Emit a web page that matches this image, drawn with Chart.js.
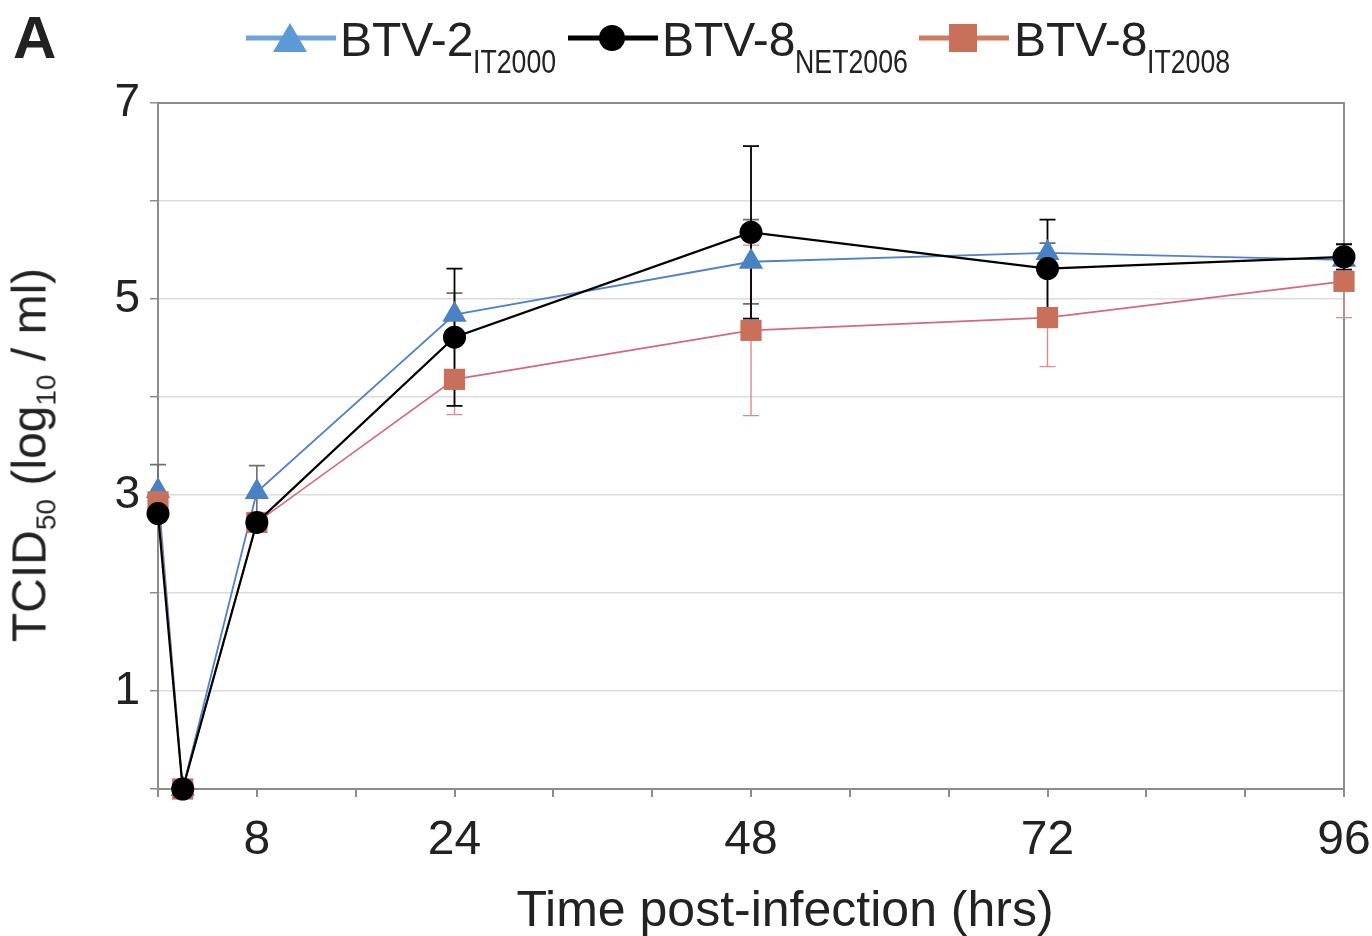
<!DOCTYPE html>
<html>
<head>
<meta charset="utf-8">
<script src="https://cdn.jsdelivr.net/npm/chart.js@4.4.1/dist/chart.umd.min.js"></script>
<style>
body { margin: 0; background: #fff; font-family: "Liberation Sans", Arial, sans-serif; color: #222; }
#wrap { position: relative; width: 1372px; height: 936px; overflow: hidden; }
#chart { position: absolute; left: 0; top: 0; }
.lbl { position: absolute; white-space: nowrap; }
.leg { font-size: 48px; line-height: 48px; top: 16px; }
.sub { display: inline-block; font-size: 33px; transform: scaleX(0.81); transform-origin: left; vertical-align: -17px; }
svg { position: absolute; }
</style>
</head>
<body>
<div id="wrap">
  <canvas id="chart" width="1372" height="936"></canvas>

  <div class="lbl" style="left:13px;top:8px;font-size:60px;line-height:60px;font-weight:bold;">A</div>

  <!-- légende -->
  <svg style="left:246px;top:18px" width="90" height="40">
    <line x1="0" y1="20" x2="90" y2="20" stroke="#6fa3da" stroke-width="5"/>
    <polygon points="27,34 61,34 44,5" fill="#5b9bd5"/>
  </svg>
  <div class="lbl leg" style="left:340px">BTV-2<span class="sub">IT2000</span></div>

  <svg style="left:568px;top:18px" width="90" height="40">
    <line x1="0" y1="20" x2="90" y2="20" stroke="#000" stroke-width="5"/>
    <circle cx="44" cy="20" r="13" fill="#000"/>
  </svg>
  <div class="lbl leg" style="left:662px">BTV-8<span class="sub">NET2006</span></div>

  <svg style="left:919px;top:18px" width="90" height="40">
    <line x1="0" y1="20" x2="90" y2="20" stroke="#d07a62" stroke-width="5"/>
    <rect x="30" y="6" width="28" height="28" fill="#c8705a"/>
  </svg>
  <div class="lbl leg" style="left:1014px">BTV-8<span class="sub">IT2008</span></div>

  <div class="lbl" style="left:785px;top:884px;font-size:50px;line-height:50px;transform:translateX(-50%);">Time post-infection (hrs)</div>
  <div class="lbl" style="left:38px;top:455px;font-size:48px;line-height:48px;transform:translate(-50%,-50%) rotate(-90deg);">TCID<span style="font-size:28px;vertical-align:-10px">50</span> (log<span style="font-size:28px;vertical-align:-10px">10</span> / ml)</div>
</div>

<script>
// données (heures post-infection, log10 TCID50/ml)
const hours = [0, 2, 8, 24, 48, 72, 96];

const btv2 = [3.04, 0, 3.03, 4.84, 5.38, 5.47, 5.40];
const btv2Err = [0.27, 0, 0.27, 0.22, 0.43, 0.10, 0.05];

const btv8Net = [2.81, 0, 2.72, 4.61, 5.68, 5.31, 5.43];
const btv8NetErr = [0.05, 0, 0.05, 0.70, 0.88, 0.50, 0.13];

const btv8It = [2.93, 0, 2.72, 4.18, 4.68, 4.81, 5.18];
const btv8ItErr = [0.05, 0, 0.05, 0.36, 0.87, 0.50, 0.37];

const xLabels = [8, 24, 48, 72, 96];
const yLabels = [1, 3, 5, 7];

const axisGray = "#8c8c8c";

function toPoints(vals) {
    return hours.map((h, i) => ({ x: h, y: vals[i] }));
}

// barres d'erreur + cadre haut/droite
const extrasPlugin = {
    id: "extras",
    beforeDatasetsDraw(chart) {
        const ctx = chart.ctx;
        const area = chart.chartArea;
        const yScale = chart.scales.y;

        ctx.save();
        ctx.strokeStyle = axisGray;
        ctx.lineWidth = 2;
        ctx.beginPath();
        ctx.moveTo(area.left, area.top);
        ctx.lineTo(area.right, area.top);
        ctx.lineTo(area.right, area.bottom);
        ctx.stroke();

        chart.data.datasets.forEach((ds, i) => {
            const meta = chart.getDatasetMeta(i);
            ds.errors.forEach((e, j) => {
                if (!e) return;
                const pt = meta.data[j];
                const v = ds.data[j].y;
                const yTop = yScale.getPixelForValue(v + e);
                const yBot = yScale.getPixelForValue(v - e);
                ctx.strokeStyle = ds.errColor;
                ctx.lineWidth = ds.errWidth;
                ctx.beginPath();
                ctx.moveTo(pt.x, yTop);
                ctx.lineTo(pt.x, yBot);
                ctx.moveTo(pt.x - 8, yTop);
                ctx.lineTo(pt.x + 8, yTop);
                ctx.moveTo(pt.x - 8, yBot);
                ctx.lineTo(pt.x + 8, yBot);
                ctx.stroke();
            });
        });
        ctx.restore();
    }
};

new Chart(document.getElementById("chart"), {
    type: "line",
    data: {
        datasets: [
            {
                label: "BTV-2 IT2000",
                data: toPoints(btv2),
                errors: btv2Err,
                errColor: "#6e6e6e",
                errWidth: 1.6,
                borderColor: "#4f82c8",
                borderWidth: 1.8,
                backgroundColor: "#4a80c4",
                pointStyle: "triangle",
                pointRadius: 14,
                pointBorderWidth: 0,
                tension: 0,
                clip: false,
                order: 3
            },
            {
                label: "BTV-8 IT2008",
                data: toPoints(btv8It),
                errors: btv8ItErr,
                errColor: "#d98a8e",
                errWidth: 1.4,
                borderColor: "#d4697a",
                borderWidth: 1.6,
                backgroundColor: "#c8705a",
                pointStyle: "rect",
                pointRadius: 15,
                pointBorderWidth: 0,
                tension: 0,
                clip: false,
                order: 2
            },
            {
                label: "BTV-8 NET2006",
                data: toPoints(btv8Net),
                errors: btv8NetErr,
                errColor: "#000",
                errWidth: 1.8,
                borderColor: "#000",
                borderWidth: 2.2,
                backgroundColor: "#000",
                pointStyle: "circle",
                pointRadius: 11.5,
                pointBorderWidth: 0,
                tension: 0,
                clip: false,
                order: 1
            }
        ]
    },
    options: {
        responsive: false,
        animation: false,
        layout: { padding: { left: 0, top: 103, right: 28, bottom: 0 } },
        scales: {
            x: {
                type: "linear",
                min: 0,
                max: 96,
                afterFit: s => {
                    s.height = 147;
                    s.paddingLeft = 0;
                    s.paddingRight = 0;
                },
                ticks: {
                    stepSize: 8,
                    autoSkip: false,
                    maxRotation: 0,
                    padding: 15,
                    color: "#222",
                    font: { family: "Liberation Sans", size: 48 },
                    callback: v => xLabels.includes(v) ? String(v) : ""
                },
                grid: {
                    drawOnChartArea: false,
                    drawTicks: true,
                    tickLength: 8,
                    color: axisGray,
                    lineWidth: 2
                },
                border: { display: true, color: axisGray, width: 2 }
            },
            y: {
                min: 0,
                max: 7,
                afterFit: s => { s.width = 158; },
                ticks: {
                    stepSize: 1,
                    padding: 10,
                    color: "#222",
                    font: { family: "Liberation Sans", size: 46 },
                    callback: v => yLabels.includes(v) ? String(v) : ""
                },
                grid: {
                    color: "#dcdcdc",
                    lineWidth: 1.5,
                    tickColor: axisGray,
                    tickLength: 8
                },
                border: { display: true, color: axisGray, width: 2 }
            }
        },
        plugins: {
            legend: { display: false },
            tooltip: { enabled: false }
        }
    },
    plugins: [extrasPlugin]
});
</script>
</body>
</html>
